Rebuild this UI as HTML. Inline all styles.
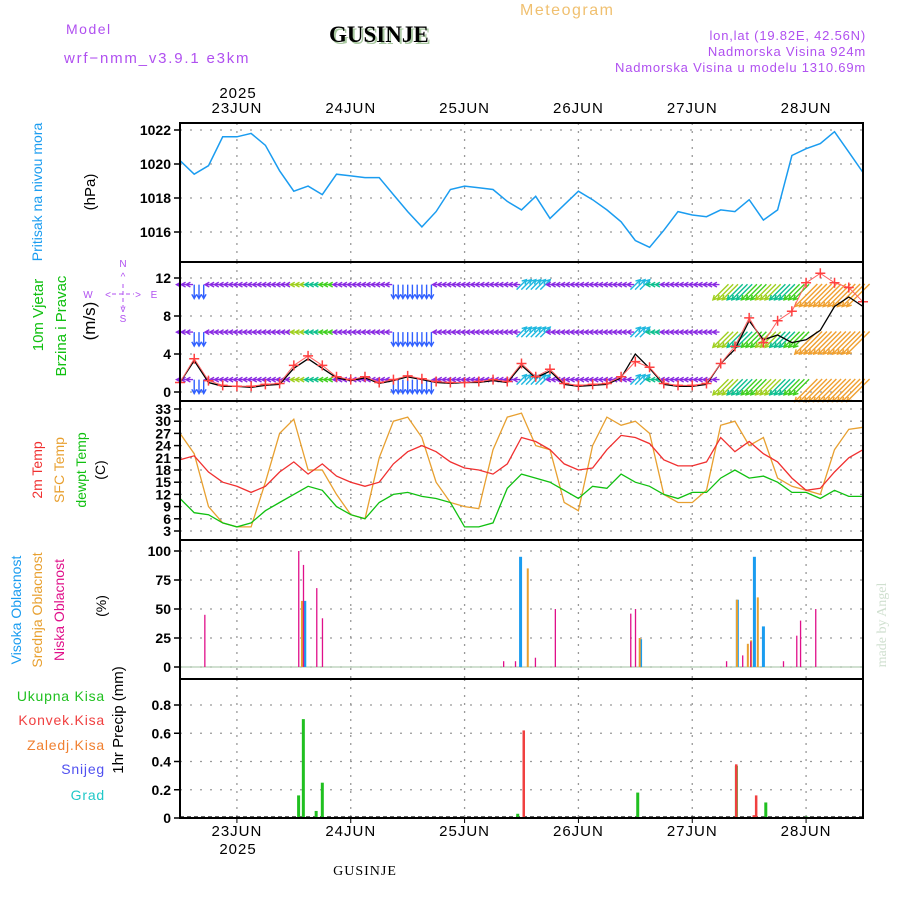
<!DOCTYPE html>
<html><head><meta charset="utf-8"><style>
body{margin:0;background:#fff;}
svg{display:block;font-family:"Liberation Sans",sans-serif;}
</style></head><body>
<svg id="c" width="900" height="900" xmlns="http://www.w3.org/2000/svg">
<text x="66" y="34" fill="#b050f0" font-size="14" letter-spacing="1.5">Model</text>
<text x="64" y="63" fill="#b050f0" font-size="15" letter-spacing="1.8">wrf−nmm_v3.9.1 e3km</text>
<text x="331" y="44" fill="#a8c8a0" font-size="23" font-weight="bold" font-family="Liberation Serif,serif">GUSINJE</text>
<text x="329" y="42" fill="#000" font-size="23" font-weight="bold" font-family="Liberation Serif,serif">GUSINJE</text>
<text x="520" y="15" fill="#f0c070" font-size="16" letter-spacing="1.5">Meteogram</text>
<text x="866" y="40" fill="#b050f0" font-size="13" text-anchor="end" letter-spacing="0.8">lon,lat (19.82E, 42.56N)</text>
<text x="866" y="56" fill="#b050f0" font-size="13" text-anchor="end" letter-spacing="0.8">Nadmorska Visina 924m</text>
<text x="866" y="72" fill="#b050f0" font-size="13" text-anchor="end" letter-spacing="0.8">Nadmorska Visina u modelu 1310.69m</text>
<text x="238" y="98" font-size="15" text-anchor="middle" letter-spacing="1">2025</text>
<text x="238" y="854" font-size="15" text-anchor="middle" letter-spacing="1">2025</text>
<text x="365" y="875" font-size="14" text-anchor="middle" font-family="Liberation Serif,serif" letter-spacing="1">GUSINJE</text>
<text transform="translate(886,625) rotate(-90)" font-size="14" fill="#d0e0d0" text-anchor="middle" font-family="Liberation Serif,serif">made by Angel</text>
<g id="g"></g>
</svg>
<script>
// ---- data (3-hourly from 22JUN 12:00 to 28JUN 12:00) ----
const dayLabels=["23JUN","24JUN","25JUN","26JUN","27JUN","28JUN"];
const pressure=[1020.2,1019.4,1019.9,1021.6,1021.6,1021.8,1021.1,1019.6,1018.4,1018.7,1018.2,1019.4,1019.3,1019.2,1019.2,1018.2,1017.2,1016.3,1017.2,1018.5,1018.7,1018.6,1018.5,1017.8,1017.3,1018.1,1016.8,1017.6,1018.4,1017.9,1017.3,1016.6,1015.5,1015.1,1016.1,1017.2,1017.0,1016.9,1017.3,1017.2,1017.9,1016.7,1017.3,1020.5,1020.9,1021.2,1021.9,1020.7,1019.5];
const windSpeed=[1.0,3.3,1.0,0.6,0.6,0.5,0.7,0.8,2.5,3.5,2.5,1.5,1.2,1.5,0.9,1.2,1.6,1.3,1.0,0.9,1.0,1.0,1.2,1.0,2.8,1.5,2.2,0.8,0.6,0.7,0.8,1.5,4.0,2.5,0.8,0.6,0.6,0.8,3.0,4.5,7.5,5.5,6.0,5.2,5.5,6.5,9.0,10.0,9.0];
const windGust=[1.0,3.5,1.2,0.7,0.6,0.6,0.8,0.9,2.8,3.8,2.8,1.6,1.3,1.6,1.0,1.3,1.7,1.4,1.1,1.0,1.0,1.1,1.3,1.1,3.0,1.6,2.4,0.9,0.7,0.8,0.9,1.6,3.2,2.6,0.9,0.7,0.7,0.9,3.0,4.8,7.8,5.2,7.5,8.5,11.5,12.5,11.5,11.0,9.5];
const windDir=[180,270,180,180,180,180,180,180,180,180,180,180,180,180,180,270,270,270,180,180,180,180,180,180,45,45,180,180,180,180,180,180,45,180,180,180,180,180,225,225,225,225,225,225,225,225,225,225,225];
const windLevels=[11.3,6.3,1.3];
const t2m=[20.5,21.5,17.5,15,14,12.5,14,17.5,20,17,19.5,16.5,15,14,15,19.5,22.5,24,22.5,20,18.5,18,17,19.5,26,25,23,19.5,18,18.5,23,26.5,26,24.5,20.5,19,19,20,26,22.5,25,22,20,16,13,13.5,17.5,21,23];
const tSfc=[27,22,9,5,4,4,15,27,30.5,18,18,12,7,6,21,30,31,26,15,10,9,8.5,23,31,32,24,23,10,8,24,31,29,30,27,12,10,10,13,29,30,24,26,16,14,13,12,23,28,28.5];
const tDew=[11,7.5,7,5,4,5,8,10,12,14,13,9,7,6,10,12,12.5,11.5,11,10,4,4,5,13.5,17,16,15,13,11,14,13.5,17,15,14,12,11,12.5,12.5,16,18,16,16.5,15,12.5,12.5,11,13,11.5,11.5];
// clouds: hour offsets from start and values (%)
const cloudHighHours=[71.7,97,117.4,121,122.9,26.2];
const cloudHigh=[95,24,58,95,35,57];
const cloudMidHours=[25.3,72.9,117,121.4,96.5,119.3,120];
const cloudMid=[57,85,58,60,25,20,23];
const cloudLowHours=[5.1,24.9,25.9,28.7,29.9,68.1,70.6,74.8,79,94.9,95.9,115.1,118.5,120.2,127.1,129.9,130.7,133.9];
const cloudLow=[45,100,88,68,42,5,5,8,50,46,50,5,10,22,5,27,40,50];
// precip
const precipTotHours=[24.9,25.9,28.6,29.9,71.1,96.4,117.2,123.4,132];
const precipTot=[0.16,0.70,0.05,0.25,0.03,0.18,0.37,0.11,0.01];
const precipConvHours=[72,116.8,120.5,121];
const precipConv=[0.62,0.38,0.02,0.16];
const pTicks=[1016,1018,1020,1022];
const wTicks=[0,4,8,12];
const tTicks=[3,6,9,12,15,18,21,24,27,30,33];
const cTicks=[0,25,50,75,100];
const rTicks=[0,0.2,0.4,0.6,0.8];

const NS="http://www.w3.org/2000/svg";
const G=document.getElementById('g');
const X0=180,X1=863,HOURS=144;
const xs=h=>X0+h*(X1-X0)/HOURS;
const hOf=i=>i*3;
function el(t,a,p){const e=document.createElementNS(NS,t);for(const k in a)e.setAttribute(k,a[k]);(p||G).appendChild(e);return e;}
function scale(v0,v1,y0,y1){return v=>y0+(v-v0)*(y1-y0)/(v1-v0);}
const panels=[
 {top:123,bot:262,y:scale(1016,1022,232,130),ticks:pTicks,fmt:v=>v},
 {top:262,bot:401,y:scale(0,12,392,278),ticks:wTicks,fmt:v=>v},
 {top:401,bot:540,y:scale(3,33,531,409),ticks:tTicks,fmt:v=>v},
 {top:540,bot:679,y:scale(0,100,667,551),ticks:cTicks,fmt:v=>v},
 {top:679,bot:818,y:scale(0,0.8,818,705),ticks:rTicks,fmt:v=>v===0?"0":v.toFixed(1)}
];
const names=['pressure','wind','temperature','cloud','precip'];
panels.forEach((p,pi)=>{
 const g=el('g',{});
 
 
 for(let d=0;d<6;d++){const x=xs(12+24*d);
  const l=el('line',{x1:x,x2:x,y1:p.top,y2:p.bot,stroke:'#999','stroke-dasharray':'2,6','stroke-width':1.3},g);
  }
 p.ticks.forEach(v=>{const y=p.y(v);
  if(pi!==4||v>0){const l=el('line',{x1:X0,x2:X1,y1:y,y2:y,stroke:'#999','stroke-dasharray':'2,8','stroke-width':1.3},g);
  }
  el('line',{x1:X0-6,x2:X0,y1:y,y2:y,stroke:'#000','stroke-width':1.5},g);
  const t=el('text',{x:X0-9,y:y+5,'text-anchor':'end','font-size':14,'font-weight':'bold'},g);
  t.textContent=p.fmt(v);
  
 });
 p.g=g;
});
dayLabels.forEach((d,i)=>{const x=xs(12+24*i);
 [113,836].forEach(y=>{const t=el('text',{x:x,y:y,'text-anchor':'middle','font-size':15,'letter-spacing':1});t.textContent=d;
 });
 el('line',{x1:x,x2:x,y1:818,y2:823,stroke:'#000'});
});
function line(arr,p,color,w,name){
 const pts=arr.map((v,i)=>xs(hOf(i)).toFixed(1)+','+p.y(v).toFixed(1)).join(' ');
 const e=el('polyline',{points:pts,fill:'none',stroke:color,'stroke-width':w||1.3},p.g);
 return e;
}
line(pressure,panels[0],'#1a9cf0',1.5,'pressure-line');
const wcol=['#8a2be2','#3060ff','#1fb8e0','#10c090','#40d020','#a0d020','#f0a030','#f06040'];
function colFor(i){const s=windSpeed[i];if(s<2.5&&windDir[i]===180)return wcol[0];if(windDir[i]===270)return wcol[1];if(windDir[i]===45)return wcol[2];
 if(i>=44)return wcol[6];return wcol[3+((i)%3)];}
const wp=panels[1];
windLevels.forEach(lv=>{
 for(let i=0;i<windDir.length-1;i++){
  for(let k=0;k<3;k++){
   const h=hOf(i)+k, d=windDir[i]*Math.PI/180;
   const x=xs(h), y=wp.y(lv);
   let L=windDir[i]===180?7:(windDir[i]===225?(i>=44?32:22):14);
   const dx=Math.cos(d)*L, dy=-Math.sin(d)*L;
   const sh=windDir[i]===270?L/2:(windDir[i]===225?L/3:0);
   const x0=x-dx/2,y0=y-dy/2+sh,x1=x+dx/2,y1=y+dy/2+sh;
   const c=colFor(i);
   const a=el('path',{d:`M${x0.toFixed(1)},${y0.toFixed(1)}L${x1.toFixed(1)},${y1.toFixed(1)}M${(x1-Math.cos(d-0.5)*5).toFixed(1)},${(y1+Math.sin(d-0.5)*5).toFixed(1)}L${x1.toFixed(1)},${y1.toFixed(1)}L${(x1-Math.cos(d+0.5)*5).toFixed(1)},${(y1+Math.sin(d+0.5)*5).toFixed(1)}`,stroke:c,fill:'none','stroke-width':1.4},wp.g);
   
   
  }
 }
});
line(windSpeed,wp,'#000',1.3,'wind-speed-line');
line(windGust,wp,'#ff6060',1,'wind-gust-line');
windGust.forEach((v,i)=>{const x=xs(hOf(i)),y=wp.y(v);
 const c=el('path',{d:`M${x-5},${y}h10M${x},${y-5}v10`,stroke:'#ff4040','stroke-width':1.5},wp.g);
 });
line(tSfc,panels[2],'#e8a030',1.3,'sfc-temp-line');
line(t2m,panels[2],'#f03030',1.3,'t2m-line');
line(tDew,panels[2],'#10c010',1.3,'dewpoint-line');
function bars(hours,vals,p,color,off,w,name){
 hours.forEach((h,i)=>{const x=xs(h)+off,y=p.y(vals[i]),y0=p.y(0);
  const r=el('rect',{x:x,y:Math.min(y,y0),width:w,height:Math.abs(y0-y),fill:color},p.g);
  });
}
const cp=panels[3];
el('line',{x1:X0,x2:X1,y1:cp.y(0),y2:cp.y(0),stroke:'#a0c0a0','stroke-width':1},cp.g);
bars(cloudHighHours,cloudHigh,cp,'#1a9cf0',-1,3,'high-cloud-bar');
bars(cloudMidHours,cloudMid,cp,'#e8a030',1,2,'mid-cloud-bar');
bars(cloudLowHours,cloudLow,cp,'#e0108a',0,1.3,'low-cloud-bar');
const rp=panels[4];
el('line',{x1:X0,x2:X1,y1:rp.y(0)-1,y2:rp.y(0)-1,stroke:'#000','stroke-dasharray':'4,3','stroke-width':1.2},rp.g);
bars(precipTotHours,precipTot,rp,'#20c020',-1,3,'total-precip-bar');
bars(precipConvHours,precipConv,rp,'#f04040',1,2.5,'convective-precip-bar');
panels.forEach((p,i)=>{const r=el('rect',{x:X0,y:p.top,width:X1-X0,height:p.bot-p.top,fill:'none',stroke:'#000','stroke-width':2});
 });
function vt(x,y,txt,col,size,name){const t=el('text',{transform:`translate(${x},${y}) rotate(-90)`,'text-anchor':'middle',fill:col,'font-size':size||14});t.textContent=txt;
 }
vt(42,192,'Pritisak na nivou mora','#1a9cf0',14,'pressure-title');
vt(95,192,'(hPa)','#000',15,'pressure-unit');
vt(43,315,'10m Vjetar','#10c010',15,'wind-title-1');
vt(66,326,'Brzina i Pravac','#10c010',15,'wind-title-2');
vt(95,321,'(m/s)','#000',17,'wind-unit');
vt(42,470,'2m Temp','#f03030',14,'t2m-title');
vt(64,470,'SFC Temp','#e8a030',14,'sfc-title');
vt(86,470,'dewpt Temp','#10c010',14,'dew-title');
vt(105,470,'(C)','#000',14,'temp-unit');
vt(21,610,'Visoka Oblacnost','#1a9cf0',14,'high-cloud-title');
vt(42,610,'Srednja Oblacnost','#e8a030',14,'mid-cloud-title');
vt(64,610,'Niska Oblacnost','#e0108a',14,'low-cloud-title');
vt(106,606,'(%)','#000',14,'cloud-unit');
vt(123,720,'1hr Precip (mm)','#000',15,'precip-unit');
[['Ukupna  Kisa','#20c020',701],['Konvek.Kisa','#f04040',725],['Zaledj.Kisa','#f08030',750],['Snijeg','#5050f0',774],['Grad','#20c8c8',800]].forEach(a=>{
 const t=el('text',{x:105,y:a[2],'text-anchor':'end',fill:a[1],'font-size':14,'letter-spacing':0.8});t.textContent=a[0];
 });
const cg=el('g',{fill:'#b050f0','font-size':10,'text-anchor':'middle'});

[[123,267,'N'],[123,322,'S'],[88,298,'W'],[154,298,'E'],[123,280,'^'],[123,312,'v'],[108,298,'<'],[138,298,'>']].forEach(a=>{const t=el('text',{x:a[0],y:a[1]},cg);t.textContent=a[2];});
el('path',{d:'M112,294h22M123,284v24',stroke:'#b050f0','stroke-dasharray':'4,3'},cg);
</script>
</body></html>
